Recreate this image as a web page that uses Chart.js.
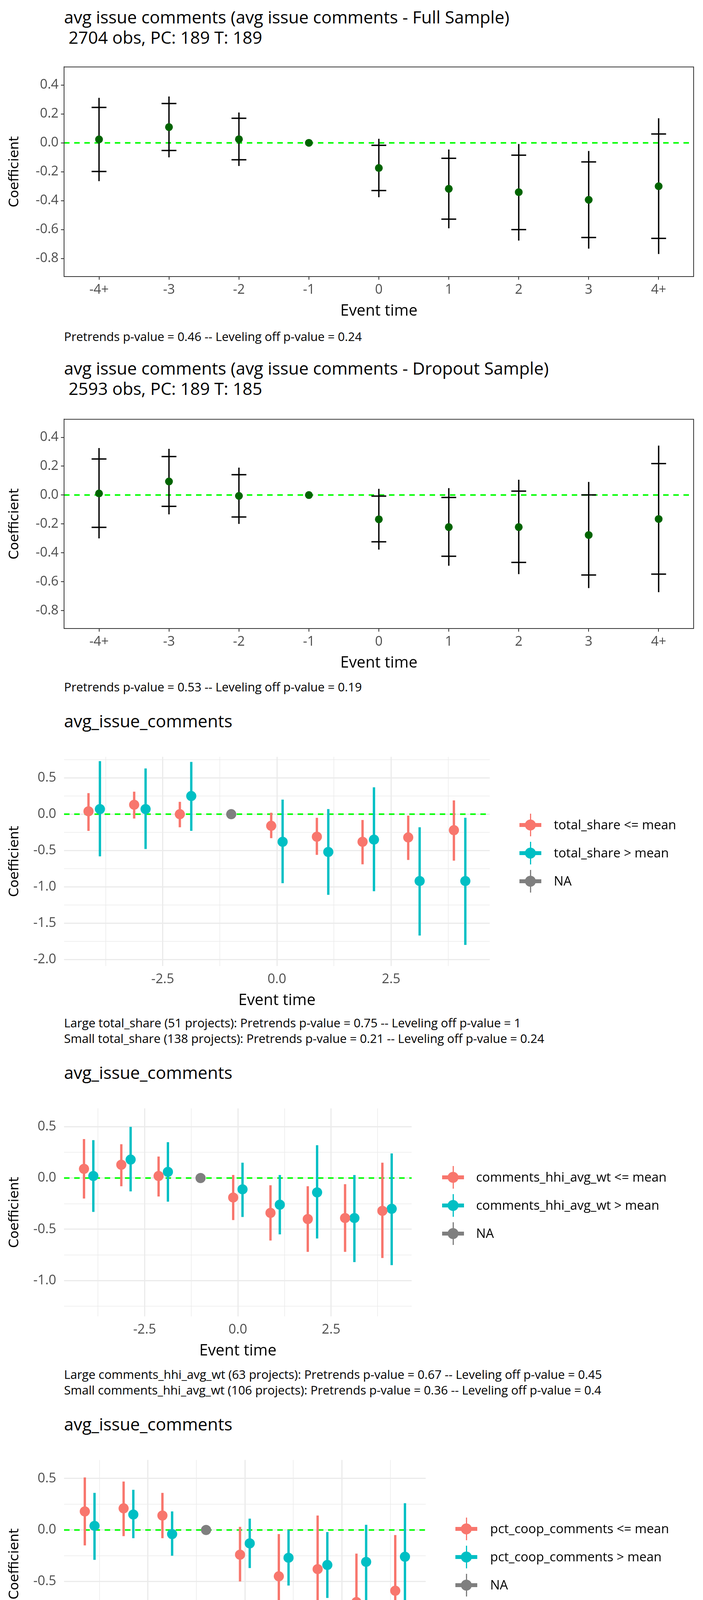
<!DOCTYPE html>
<html><head><meta charset="utf-8">
<script src="https://cdn.jsdelivr.net/npm/chart.js@4.4.0/dist/chart.umd.min.js"></script>
<style>
html,body{margin:0;padding:0;background:#fff;width:1800px;height:7200px;overflow:hidden;position:relative;font-family:"Open Sans",sans-serif;}
.t{position:absolute;white-space:pre;color:#000;}
.title{font-size:44px;line-height:52px;left:164px;}
.foot{font-size:31px;line-height:40px;left:164px;}
.leg{font-size:33px;line-height:40px;}
canvas{position:absolute;left:0;}
.mk{position:absolute;}
</style></head><body>
<script>
// ---------- DATA ----------
const eventTimes = [-4,-3,-2,-1,0,1,2,3,4];
const eventLabels = ["-4+","-3","-2","-1","0","1","2","3","4+"];

// Full sample
const fullCoef = [0.024,0.109,0.025,0,-0.174,-0.318,-0.341,-0.394,-0.30];
const fullLo95 = [-0.265,-0.10,-0.16,null,-0.376,-0.591,-0.676,-0.732,-0.769];
const fullHi95 = [0.311,0.321,0.21,null,0.028,-0.046,-0.008,-0.056,0.17];
const fullLo90 = [-0.198,-0.053,-0.117,null,-0.33,-0.528,-0.60,-0.655,-0.661];
const fullHi90 = [0.245,0.272,0.17,null,-0.017,-0.107,-0.085,-0.132,0.061];
// Dropout sample
const dropCoef = [0.011,0.094,-0.006,0,-0.168,-0.222,-0.222,-0.277,-0.166];
const dropLo95 = [-0.30,-0.134,-0.20,null,-0.378,-0.49,-0.548,-0.645,-0.673];
const dropHi95 = [0.326,0.32,0.19,null,0.043,0.048,0.106,0.091,0.343];
const dropLo90 = [-0.224,-0.078,-0.152,null,-0.324,-0.424,-0.467,-0.554,-0.548];
const dropHi90 = [0.25,0.267,0.141,null,-0.007,-0.017,0.027,0.001,0.218];

// total_share
const tsLowCoef = [0.04,0.13,0.0,null,-0.16,-0.31,-0.38,-0.32,-0.22];
const tsLowLo   = [-0.23,-0.06,-0.18,null,-0.33,-0.56,-0.69,-0.63,-0.64];
const tsLowHi   = [0.29,0.31,0.17,null,0.02,-0.05,-0.08,-0.02,0.19];
const tsHighCoef= [0.07,0.07,0.25,null,-0.38,-0.52,-0.35,-0.92,-0.92];
const tsHighLo  = [-0.58,-0.48,-0.23,null,-0.95,-1.11,-1.06,-1.67,-1.80];
const tsHighHi  = [0.73,0.63,0.72,null,0.20,0.07,0.37,-0.18,-0.05];
// comments_hhi_avg_wt
const hhiLowCoef = [0.09,0.13,0.02,null,-0.19,-0.34,-0.40,-0.39,-0.32];
const hhiLowLo   = [-0.20,-0.08,-0.18,null,-0.41,-0.61,-0.72,-0.72,-0.78];
const hhiLowHi   = [0.38,0.33,0.21,null,0.03,-0.07,-0.08,-0.06,0.15];
const hhiHighCoef= [0.02,0.18,0.06,null,-0.11,-0.26,-0.14,-0.39,-0.30];
const hhiHighLo  = [-0.33,-0.13,-0.23,null,-0.38,-0.55,-0.59,-0.82,-0.85];
const hhiHighHi  = [0.37,0.50,0.35,null,0.15,0.03,0.32,0.03,0.24];
// pct_coop_comments
const pccLowCoef = [0.18,0.21,0.14,null,-0.24,-0.45,-0.38,-0.70,-0.59];
const pccLowLo   = [-0.15,-0.06,-0.08,null,-0.50,-0.85,-0.89,-1.17,-1.13];
const pccLowHi   = [0.51,0.47,0.36,null,0.03,-0.04,0.14,-0.23,-0.05];
const pccHighCoef= [0.04,0.15,-0.04,null,-0.13,-0.27,-0.34,-0.31,-0.26];
const pccHighLo  = [-0.29,-0.08,-0.25,null,-0.37,-0.54,-0.66,-0.68,-0.79];
const pccHighHi  = [0.36,0.39,0.18,null,0.11,0.0,-0.02,0.05,0.26];
// pct_coop_commits_count
const pcmLowCoef = [0.03,0.20,0.06,null,-0.09,-0.34,-0.34,-0.23,-0.15];
const pcmLowLo   = [-0.34,-0.16,-0.25,null,-0.47,-0.72,-0.78,-0.62,-0.75];
const pcmLowHi   = [0.41,0.55,0.37,null,0.30,0.04,0.09,0.16,0.43];
const pcmHighCoef= [0.25,0.38,0.19,null,-0.21,-0.30,-0.46,-0.60,-0.63];
const pcmHighLo  = [-0.26,0.12,-0.08,null,-0.57,-0.73,-0.90,-1.20,-1.35];
const pcmHighHi  = [0.75,0.64,0.47,null,0.15,0.14,0.0,0.0,0.09];
// min_layer_count
const mlcLowCoef = [-0.23,0.06,0.06,null,-0.35,-0.49,-0.47,-0.68,-0.57];
const mlcLowLo   = [-0.74,-0.30,-0.34,null,-0.76,-1.06,-1.15,-1.40,-1.46];
const mlcLowHi   = [0.30,0.42,0.46,null,0.07,0.08,0.21,0.04,0.32];
const mlcHighCoef= [0.10,0.13,0.02,null,-0.12,-0.28,-0.31,-0.32,-0.23];
const mlcHighLo  = [-0.16,-0.07,-0.14,null,-0.31,-0.51,-0.59,-0.61,-0.64];
const mlcHighHi  = [0.36,0.33,0.19,null,0.06,-0.04,-0.02,-0.03,0.18];
// problem_disc_hl_contr_ov
const pdLowCoef = [0.0,0.16,0.0,null,-0.12,-0.18,-0.21,-0.18,-0.05];
const pdLowLo   = [-0.29,-0.03,-0.17,null,-0.29,-0.45,-0.54,-0.51,-0.52];
const pdLowHi   = [0.30,0.36,0.16,null,0.03,0.08,0.11,0.15,0.42];
const pdHighCoef= [0.0,-0.02,0.07,null,-0.30,-0.62,-0.62,-0.85,-0.83];
const pdHighLo  = [-0.40,-0.37,-0.26,null,-0.70,-1.05,-1.12,-1.35,-1.45];
const pdHighHi  = [0.41,0.34,0.40,null,0.10,-0.19,-0.13,-0.35,-0.20];

const boxYTicks = [-0.8,-0.6,-0.4,-0.2,0,0.2,0.4];
const minorXTicks = [-3.75,-2.5,-1.25,0,1.25,2.5,3.75];

const RED="#F8766D", TEAL="#00BFC4", GREY="#7F7F7F";

// ---------- helpers ----------
function addText(cls, txt, left, top){
  const d=document.createElement('div'); d.className='t '+cls; d.textContent=txt;
  d.style.top=top+'px'; if(left!=null) d.style.left=left+'px'; document.body.appendChild(d); return d;
}
const errPlugin = {
  id:'err',
  beforeDatasetsDraw(chart){
    const {ctx, chartArea:a, scales:{x,y}} = chart;
    ctx.save();
    const y0=y.getPixelForValue(0);
    ctx.strokeStyle='#00FF00'; ctx.lineWidth=4; ctx.setLineDash([14,12]);
    ctx.beginPath(); ctx.moveTo(a.left,y0); ctx.lineTo(a.right,y0); ctx.stroke();
    ctx.setLineDash([]);
    chart.data.datasets.forEach(ds=>{
      if(!ds.lo) return;
      ds.data.forEach((p,i)=>{
        const lo=ds.lo[i], hi=ds.hi[i]; if(lo==null) return;
        const px=x.getPixelForValue(p.x);
        ctx.strokeStyle=ds.barColor; ctx.lineWidth=ds.barWidth; ctx.lineCap='butt';
        ctx.beginPath(); ctx.moveTo(px,y.getPixelForValue(lo)); ctx.lineTo(px,y.getPixelForValue(hi)); ctx.stroke();
        if(ds.lo90 && ds.lo90[i]!=null){
          [ds.lo90[i],ds.hi90[i]].forEach(v=>{
            const py=y.getPixelForValue(v);
            ctx.beginPath(); ctx.moveTo(px-19,py); ctx.lineTo(px+19,py); ctx.stroke();
          });
        }
      });
    });
    ctx.restore();
  },
  afterDraw(chart){
    if(!chart.options.plugins.err || !chart.options.plugins.err.box) return;
    const {ctx, chartArea:a}=chart;
    ctx.save(); ctx.strokeStyle='#333'; ctx.lineWidth=2; ctx.strokeRect(a.left,a.top,a.right-a.left,a.bottom-a.top); ctx.restore();
  }
};

function pts(coef, dx){
  const out=[]; const idx=[];
  eventTimes.forEach((t,i)=>{ if(coef[i]!=null){ out.push({x:t+dx,y:coef[i]}); idx.push(i);} });
  return {out, idx};
}
function sub(arr, idx){ return arr ? idx.map(i=>arr[i]) : null; }

function makeChart(p){
  const c=document.createElement('canvas');
  const h=p.bottom-p.top+115;
  c.width=1800; c.height=h; c.style.top=p.top+'px'; c.style.width='1800px'; c.style.height=h+'px';
  document.body.appendChild(c);
  const isBox=p.box;
  const tickFont={family:'Open Sans', size:34};
  const majorY=v=>Math.abs(v/0.5-Math.round(v/0.5))<1e-6;
  const majorX=v=>Math.abs(v/2.5-Math.round(v/2.5))<1e-6;
  const x = {
    type:'linear', min:p.xmin, max:p.xmax,
    afterBuildTicks:s=>{ s.ticks=(isBox?eventTimes:minorXTicks).map(v=>({value:v})); },
    afterFit:s=>{ s.height=115; },
    ticks:{ autoSkip:false, maxRotation:0, color:'#4D4D4D', font:tickFont, padding:isBox?6:14,
      callback:v=> isBox ? eventLabels[eventTimes.indexOf(v)] : (majorX(v)? v.toFixed(1):'') },
    title:{display:true, text:'Event time', color:'#000', font:{family:'Open Sans', size:40}, padding:{top:0,bottom:2}},
    grid: isBox ? {drawOnChartArea:false, drawTicks:true, tickLength:8, color:'#333', lineWidth:2}
                : {drawTicks:false, color:'#EBEBEB', lineWidth:ctx=>majorX(ctx.tick.value)?3:1.5},
    border:{display:isBox, color:'#333', width:2}
  };
  const y = {
    type:'linear', min:p.ymin, max:p.ymax,
    afterBuildTicks:s=>{ s.ticks=p.yticks.map(v=>({value:v})); },
    afterFit:s=>{ s.width=164; },
    ticks:{ autoSkip:false, color:'#4D4D4D', font:tickFont, padding:isBox?6:20,
      callback:v=> isBox ? v.toFixed(1) : (majorY(v)? v.toFixed(1):'') },
    title:{display:true, text:'Coefficient', color:'#000', font:{family:'DejaVu Sans', size:34}, padding:{top:18,bottom:0}},
    grid: isBox ? {drawOnChartArea:false, drawTicks:true, tickLength:8, color:'#333', lineWidth:2}
                : {drawTicks:false, color:'#EBEBEB', lineWidth:ctx=>majorY(ctx.tick.value)?3:1.5},
    border:{display:isBox, color:'#333', width:2}
  };
  new Chart(c, {
    type:'scatter',
    data:{datasets:p.datasets},
    options:{
      responsive:false, animation:false, devicePixelRatio:1,
      layout:{padding:{left:0,top:0,bottom:0,right:1800-p.right}},
      plugins:{legend:{display:false}, tooltip:{enabled:false}, err:{box:isBox}},
      scales:{x, y}
    },
    plugins:[errPlugin]
  });
}

function boxDatasets(coef, lo95, hi95, lo90, hi90){
  const {out, idx}=pts(coef,0);
  return [{data:out, lo:sub(lo95,idx), hi:sub(hi95,idx), lo90:sub(lo90,idx), hi90:sub(hi90,idx),
    barColor:'#000', barWidth:3.5, pointRadius:10, pointBackgroundColor:'#006400', pointBorderWidth:0}];
}
function splitDatasets(lc, ll, lh, hc, hl, hh){
  const a=pts(lc,-0.125), b=pts(hc,0.125);
  return [
    {data:a.out, lo:sub(ll,a.idx), hi:sub(lh,a.idx), barColor:RED, barWidth:6, pointRadius:13, pointBackgroundColor:RED, pointBorderWidth:0},
    {data:b.out, lo:sub(hl,b.idx), hi:sub(hh,b.idx), barColor:TEAL, barWidth:6, pointRadius:13, pointBackgroundColor:TEAL, pointBorderWidth:0},
    {data:[{x:-1,y:0}], pointRadius:13, pointBackgroundColor:GREY, pointBorderWidth:0}
  ];
}
function legend(mx, tx, ys, labels){
  const cols=[RED,TEAL,GREY];
  ys.forEach((yc,i)=>{
    const col=cols[i];
    const v=document.createElement('div'); v.className='mk';
    v.style.cssText=`left:${mx-1.5}px;top:${yc-29}px;width:3px;height:58px;background:${col}`;
    const hb=document.createElement('div'); hb.className='mk';
    hb.style.cssText=`left:${mx-28}px;top:${yc-5}px;width:56px;height:10px;background:${col}`;
    const dot=document.createElement('div'); dot.className='mk';
    dot.style.cssText=`left:${mx-14}px;top:${yc-14}px;width:28px;height:28px;border-radius:50%;background:${col}`;
    document.body.append(v,hb,dot);
    addText('leg', labels[i], tx, yc-21);
  });
}

// ---------- PANEL 1 & 2 ----------
addText('title','avg issue comments (avg issue comments - Full Sample)',null,17);
addText('title',' 2704 obs, PC: 189 T: 189',null,69);
makeChart({box:true, top:145, bottom:708, right:1776, xmin:-4.5, xmax:4.5, ymin:-0.925, ymax:0.525, yticks:boxYTicks,
  datasets:boxDatasets(fullCoef, fullLo95, fullHi95, fullLo90, fullHi90)});
addText('foot','Pretrends p-value = 0.46 -- Leveling off p-value = 0.24',null,841);

addText('title','avg issue comments (avg issue comments - Dropout Sample)',null,916);
addText('title',' 2593 obs, PC: 189 T: 185',null,968);
makeChart({box:true, top:1047, bottom:1609, right:1776, xmin:-4.5, xmax:4.5, ymin:-0.925, ymax:0.525, yticks:boxYTicks,
  datasets:boxDatasets(dropCoef, dropLo95, dropHi95, dropLo90, dropHi90)});
addText('foot','Pretrends p-value = 0.53 -- Leveling off p-value = 0.19',null,1738);

// ---------- split panels ----------
function range(a,b){const r=[];for(let v=a;v<=b+1e-9;v+=0.25)r.push(Math.round(v*100)/100);return r;}
const splits=[
  {title:1845, top:1897, bottom:2473, right:1254, ymin:-2.09, ymax:0.79, yt:range(-2,0.75), mx:1358, tx:1418, ly:[2112,2184,2256],
   d:[tsLowCoef,tsLowLo,tsLowHi,tsHighCoef,tsHighLo,tsHighHi], name:'total_share', foot:2618,
   f:['Large total_share (51 projects): Pretrends p-value = 0.75 -- Leveling off p-value = 1','Small total_share (138 projects): Pretrends p-value = 0.21 -- Leveling off p-value = 0.24']},
  {title:2745, top:2797, bottom:3370, right:1054, ymin:-1.35, ymax:0.68, yt:range(-1.25,0.5), mx:1160, tx:1219, ly:[3014,3086,3158],
   d:[hhiLowCoef,hhiLowLo,hhiLowHi,hhiHighCoef,hhiHighLo,hhiHighHi], name:'comments_hhi_avg_wt', foot:3518,
   f:['Large comments_hhi_avg_wt (63 projects): Pretrends p-value = 0.67 -- Leveling off p-value = 0.45','Small comments_hhi_avg_wt (106 projects): Pretrends p-value = 0.36 -- Leveling off p-value = 0.4']},
  {title:3645, top:3697, bottom:4270, right:1090, ymin:-1.34, ymax:0.68, yt:range(-1.25,0.5), mx:1194, tx:1255, ly:[3914,3986,4058],
   d:[pccLowCoef,pccLowLo,pccLowHi,pccHighCoef,pccHighLo,pccHighHi], name:'pct_coop_comments', foot:4418,
   f:['Large pct_coop_comments (97 projects): Pretrends p-value = 0.07 -- Leveling off p-value = 0.67','Small pct_coop_comments (72 projects): Pretrends p-value = 0.36 -- Leveling off p-value = 0.23']},
  {title:4545, top:4597, bottom:5170, right:1011, ymin:-1.68, ymax:0.99, yt:range(-1.5,0.75), mx:1117, tx:1177, ly:[4813,4885,4957],
   d:[pcmLowCoef,pcmLowLo,pcmLowHi,pcmHighCoef,pcmHighLo,pcmHighHi], name:'pct_coop_commits_count', foot:5318,
   f:['Large pct_coop_commits_count (30 projects): Pretrends p-value = 0.03 -- Leveling off p-value = 0','Small pct_coop_commits_count (64 projects): Pretrends p-value = 0.67 -- Leveling off p-value = 0']},
  {title:5444, top:5497, bottom:6071, right:1166, ymin:-1.69, ymax:0.99, yt:range(-1.5,0.75), mx:1270, tx:1330, ly:[5712,5784,5856],
   d:[mlcLowCoef,mlcLowLo,mlcLowHi,mlcHighCoef,mlcHighLo,mlcHighHi], name:'min_layer_count', foot:6219,
   f:['Large min_layer_count (127 projects): Pretrends p-value = 0.53 -- Leveling off p-value = 0.31','Small min_layer_count (62 projects): Pretrends p-value = 0.62 -- Leveling off p-value = 0.62']},
  {title:6344, top:6397, bottom:6970, right:1005, ymin:-1.64, ymax:0.61, yt:range(-1.5,0.5), mx:1109, tx:1169, ly:[6614,6686,6758],
   d:[pdLowCoef,pdLowLo,pdLowHi,pdHighCoef,pdHighLo,pdHighHi], name:'problem_disc_hl_contr_ov', foot:7120,
   f:['Large problem_disc_hl_contr_ov (87 projects): Pretrends p-value = 0.95 -- Leveling off p-value = 0','Small problem_disc_hl_contr_ov (102 projects): Pretrends p-value = 0.08 -- Leveling off p-value = ']}
];
splits.forEach(s=>{
  addText('title','avg_issue_comments',null,s.title-26);
  makeChart({box:false, top:s.top, bottom:s.bottom, right:s.right, xmin:-4.66, xmax:4.66, ymin:s.ymin, ymax:s.ymax, yticks:s.yt,
    datasets:splitDatasets(...s.d)});
  legend(s.mx, s.tx, s.ly, [s.name+' <= mean', s.name+' > mean', 'NA']);
  addText('foot', s.f[0], null, s.foot-20);
  addText('foot', s.f[1], null, s.foot+20);
});
</script>
</body></html>
